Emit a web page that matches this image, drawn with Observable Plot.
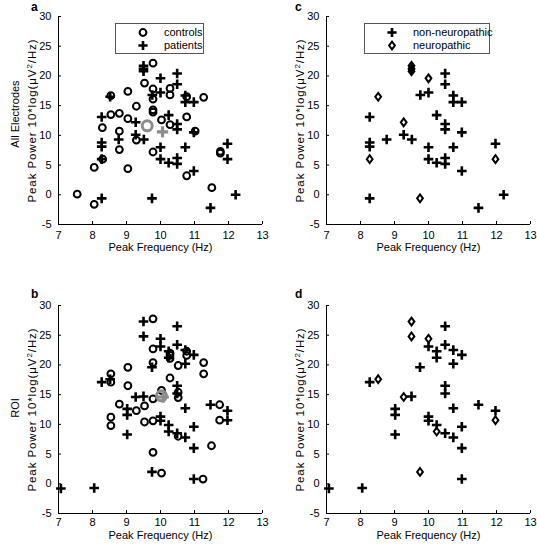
<!DOCTYPE html>
<html><head><meta charset="utf-8">
<script src="https://cdn.jsdelivr.net/npm/d3@7"></script>
<script src="https://cdn.jsdelivr.net/npm/@observablehq/plot@0.6"></script>
<style>
body{margin:0;background:#fff;overflow:hidden;font-family:"Liberation Sans",Arial,Helvetica,sans-serif;color:#000}
#wrap{position:relative;width:537px;height:544px;overflow:hidden}
.panel{position:absolute}
.letter{position:absolute;font-weight:bold;font-size:12px;line-height:13px}
.rowlab{position:absolute;font-size:11px;white-space:nowrap;transform:translate(-50%,-50%) rotate(-90deg)}
.legend{position:absolute;border:1px solid #555;background:#fff;font-size:11px}
.legend svg{position:absolute;left:0;top:0}
.legend span{position:absolute;white-space:nowrap;line-height:13px}
</style></head><body><div id="wrap"></div>
<script>
// ---- Data ----
const xTicks = [7, 8, 9, 10, 11, 12, 13];
const yTicks = [-5, 0, 5, 10, 15, 20, 25, 30];

// All electrodes: controls
const allCtrlX = [9.78,9.53,9.78,10.28,10.28,9.04,8.54,9.78,11.27,10.77,9.29,9.78,9.78,8.54,8.79,8.29,9.04,8.79,10.03,10.28,10.77,11.02,8.79,9.29,8.30,8.05,9.04,9.78,10.77,11.76,11.76,11.51,7.55,8.05];
const allCtrlY = [22.15,18.8,17.8,17.9,16.8,17.4,16.7,16.1,16.4,16.5,14.9,14.3,13.9,13.5,13.7,11.3,12.8,10.7,12.6,11.8,13.1,10.7,7.6,9.2,6.0,4.6,4.4,7.2,3.2,7.3,7.0,1.2,0.1,-1.6];
// All electrodes: non-neuropathic patients
const allNonX = [8.27,8.27,8.27,8.27,8.77,9.27,9.51,9.76,10.0,10.49,10.49,10.73,10.73,10.98,10.24,10.49,10.49,10.98,11.97,10.0,10.0,10.24,10.49,10.49,10.73,10.98,11.47,12.21];
const allNonY = [13.1,8.8,8.1,-0.6,9.3,10.1,9.3,16.8,17.2,20.4,18.6,16.7,15.6,15.6,13.4,11.9,11.0,10.5,8.6,8.0,6.0,5.4,6.2,5.2,8.0,4.0,-2.2,0.0];
// All electrodes: neuropathic patients
const allNeuX = [9.5,9.5,9.5,10.0,8.52,9.27,8.27,11.97,9.75];
const allNeuY = [21.7,21.2,20.8,19.6,16.5,12.2,6.0,6.0,-0.6];
// All electrodes: group means
const allMeanCtrl = [9.61, 11.6];
const allMeanPat = [10.06, 10.6];

// ROI: controls
const roiCtrlX = [9.78,9.78,10.28,10.28,10.28,10.77,10.77,11.27,10.52,9.78,9.04,8.54,11.27,10.28,8.54,9.04,10.03,10.52,10.52,9.78,8.79,9.29,9.53,8.54,8.54,9.53,9.78,10.52,11.74,11.74,11.5,9.78,10.03,11.25];
const roiCtrlY = [27.75,22.7,22.0,21.6,21.1,22.3,21.6,20.4,19.9,20.4,19.6,18.5,18.5,17.8,17.1,16.5,15.7,15.4,14.5,14.3,13.4,12.3,13.1,11.2,9.8,10.4,10.6,8.0,13.3,10.7,6.4,5.3,1.8,0.8];
// ROI: non-neuropathic
const roiNonX = [10.0,10.49,10.49,10.24,10.24,10.73,10.98,10.73,9.75,8.27,9.50,10.49,10.49,11.47,9.02,9.02,9.02,10.0,10.0,10.24,10.49,10.73,10.73,10.98,10.98,10.98,11.97,7.07,8.05];
const roiNonY = [23.1,26.5,23.4,22.3,21.2,22.5,21.7,20.2,19.6,17.1,14.7,16.5,15.2,13.3,12.6,11.6,8.3,11.3,10.6,9.9,8.5,12.7,7.8,9.6,6.0,0.8,12.3,-0.8,-0.7];
// ROI: neuropathic
const roiNeuX = [9.5,9.5,10.0,8.52,9.27,10.24,11.97,9.75];
const roiNeuY = [27.3,24.8,24.4,17.6,14.6,8.8,10.7,2.0];
// ROI: group means
const roiMeanCtrl = [10.03, 14.8];
const roiMeanPat = [10.08, 14.6];

// ---- helpers ----
const pts = (xs, ys) => xs.map((x, i) => ({x, y: ys[i]}));
const tallDiamond = {
  draw(ctx, size) {
    const r = Math.sqrt(size / Math.PI);
    ctx.moveTo(0, -r * 1.15); ctx.lineTo(r * 0.85, 0);
    ctx.lineTo(0, r * 1.15); ctx.lineTo(-r * 0.85, 0); ctx.closePath();
  }
};
const circleMark = (d) => Plot.dot(d, {x: "x", y: "y", r: 3.4, stroke: "#000", strokeWidth: 2, fill: "none"});
const plusMark = (d) => Plot.dot(d, {x: "x", y: "y", symbol: "plus", r: 3.2, stroke: "#000", strokeWidth: 2.6});
const diamondMark = (d) => Plot.dot(d, {x: "x", y: "y", symbol: tallDiamond, r: 3.4, stroke: "#000", strokeWidth: 2, fill: "none"});
const meanMarks = (c, p) => [
  Plot.dot([{x: c[0], y: c[1]}], {x: "x", y: "y", r: 5, stroke: "#8c8c8c", strokeWidth: 3, fill: "none"}),
  Plot.dot([{x: p[0], y: p[1]}], {x: "x", y: "y", symbol: "plus", r: 3.7, stroke: "#8c8c8c", strokeWidth: 3.2})
];

const W = 268, H = 262;
const yLabelText = "Peak Power 10*log(μV²/Hz)";
function makePanel(left, top, xTickPad, xLabelOffset, marks) {
  const svg = Plot.plot({
    width: W, height: H,
    marginLeft: 58, marginRight: 6, marginTop: 16, marginBottom: 38,
    style: {fontFamily: '"Liberation Sans", Arial, sans-serif', fontSize: "11px", color: "#000", background: "transparent", overflow: "visible"},
    x: {domain: [7, 13]},
    y: {domain: [-5, 30]},
    marks: [
      Plot.axisX({ticks: xTicks, tickFormat: d => String(d), tickSize: -3, tickPadding: xTickPad, label: "Peak Frequency (Hz)", labelAnchor: "center", labelOffset: xLabelOffset, labelArrow: "none", stroke: "#000"}),
      Plot.axisY({ticks: yTicks, tickFormat: d => String(d), tickSize: -3, tickPadding: 10, label: yLabelText, labelAnchor: "center", labelOffset: 31, labelArrow: "none", stroke: "#000"}),
      Plot.ruleX([7], {stroke: "#000"}),
      Plot.ruleY([-5], {stroke: "#000"}),
      ...marks
    ]
  });
  // y label: real superscript and MATLAB-like letter spacing
  svg.querySelectorAll("text").forEach(t => {
    if (t.textContent === yLabelText) {
      t.style.letterSpacing = "0.9px";
      t.style.fontSize = "11.5px";
      t.innerHTML = 'Peak Power 10*log(μV<tspan dy="-4" font-size="8">2</tspan><tspan dy="4">/Hz)</tspan>';
    }
  });
  svg.classList.add("panel");
  svg.style.left = left + "px";
  svg.style.top = top + "px";
  document.getElementById("wrap").appendChild(svg);
}

makePanel(0, 0, 10, 26, [
  circleMark(pts(allCtrlX, allCtrlY)),
  plusMark(pts(allNonX.concat(allNeuX), allNonY.concat(allNeuY))),
  ...meanMarks(allMeanCtrl, allMeanPat)
]);
makePanel(268, 0, 10, 26, [
  plusMark(pts(allNonX, allNonY)),
  diamondMark(pts(allNeuX, allNeuY))
]);
makePanel(0, 289, 8, 25, [
  circleMark(pts(roiCtrlX, roiCtrlY)),
  plusMark(pts(roiNonX.concat(roiNeuX), roiNonY.concat(roiNeuY))),
  ...meanMarks(roiMeanCtrl, roiMeanPat)
]);
makePanel(268, 289, 8, 25, [
  plusMark(pts(roiNonX, roiNonY)),
  diamondMark(pts(roiNeuX, roiNeuY))
]);

// ---- annotations ----
const wrap = document.getElementById("wrap");
function addDiv(cls, text, left, top) {
  const d = document.createElement("div");
  d.className = cls; d.textContent = text;
  d.style.left = left + "px"; d.style.top = top + "px";
  wrap.appendChild(d); return d;
}
addDiv("letter", "a", 31, 1);
addDiv("letter", "c", 295, 1);
addDiv("letter", "b", 31, 288);
addDiv("letter", "d", 295, 288);
addDiv("rowlab", "All Electrodes", 15, 114);
addDiv("rowlab", "ROI", 15, 408);

const legendSymbols = {
  circle: '<circle r="3.4" fill="none" stroke="#000" stroke-width="2"/>',
  plus: '<path d="M-4.6,0H4.6M0,-4.6V4.6" stroke="#000" stroke-width="2.6"/>',
  diamond: '<path d="M0,-3.9L2.9,0L0,3.9L-2.9,0Z" fill="none" stroke="#000" stroke-width="2"/>'
};
function addLegend(left, top, w, h, mx, tx, items) {
  const d = document.createElement("div");
  d.className = "legend";
  d.style.left = left + "px"; d.style.top = top + "px";
  d.style.width = w + "px"; d.style.height = h + "px";
  let svg = `<svg width="${w}" height="${h}">`;
  items.forEach(([sym, label], i) => {
    svg += `<g transform="translate(${mx},${8.5 + i * 13})">${legendSymbols[sym]}</g>`;
  });
  svg += "</svg>";
  d.innerHTML = svg;
  items.forEach(([sym, label], i) => {
    const s = document.createElement("span");
    s.textContent = label; s.style.left = tx + "px"; s.style.top = (2 + i * 13) + "px";
    d.appendChild(s);
  });
  wrap.appendChild(d);
}
addLegend(115, 23, 87, 29, 27, 48, [["circle", "controls"], ["plus", "patients"]]);
addLegend(364, 23, 124, 29, 27, 48, [["plus", "non-neuropathic"], ["diamond", "neuropathic"]]);
</script>
</body></html>
